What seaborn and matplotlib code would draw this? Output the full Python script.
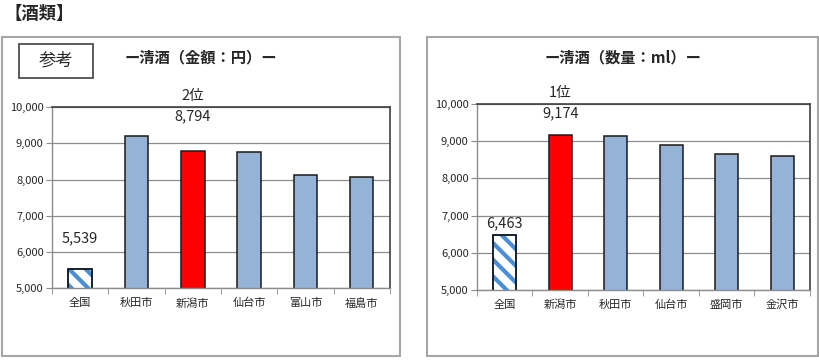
"""
清酒の支出金額・購入数量（都市別）の棒グラフ
"""
import matplotlib.pyplot as plt
import matplotlib.patches as mpatches
import matplotlib.ticker as mticker
import pandas as pd
import seaborn as sns

# 金額（円）
amount_cities = ["全国", "秋田市", "新潟市", "仙台市", "富山市", "福島市"]
amount_values = [5539, 9200, 8794, 8760, 8120, 8060]

# 数量（ml）
volume_cities = ["全国", "新潟市", "秋田市", "仙台市", "盛岡市", "金沢市"]
volume_values = [6463, 9174, 9150, 8890, 8648, 8602]

y_ticks = [5000, 6000, 7000, 8000, 9000, 10000]

BLUE = "#95b3d7"
RED = "#ff0000"
HATCH_BLUE = "#4a8fd6"

sns.set_style("white")
plt.rcParams["font.family"] = ["Noto Sans CJK JP", "DejaVu Sans"]
plt.rcParams["hatch.linewidth"] = 3.0


def draw_panel(ax, cities, values, title, rank_text, labels):
    df = pd.DataFrame({"city": cities, "value": values})
    colors = {c: (RED if c == "新潟市" else BLUE) for c in cities}
    colors["全国"] = "white"
    sns.barplot(data=df, x="city", y="value", hue="city", palette=colors,
                legend=False, width=0.42, saturation=1, edgecolor="#1a1a1a",
                linewidth=1.1, ax=ax)

    # 全国 bar: white with blue diagonal stripes, black outline
    nat = ax.patches[0]
    nat.set_hatch("\\\\")
    if hasattr(nat, "set_hatchcolor"):
        nat.set_hatchcolor(HATCH_BLUE)
    else:
        nat.set_edgecolor(HATCH_BLUE)
        ax.add_patch(mpatches.Rectangle(
            (nat.get_x(), nat.get_y()), nat.get_width(), nat.get_height(),
            fill=False, edgecolor="black", linewidth=1.1, zorder=nat.get_zorder() + 0.1))

    ax.set_ylim(5000, 10000)
    ax.set_xlim(-0.5, len(cities) - 0.5)
    ax.set_yticks(y_ticks)
    ax.yaxis.set_major_formatter(mticker.StrMethodFormatter("{x:,.0f}"))
    ax.set_xlabel("")
    ax.set_ylabel("")
    ax.set_axisbelow(True)
    ax.grid(axis="y", color="#8c8c8c", linewidth=0.9)

    ax.set_xticks(range(len(cities)))
    ax.set_xticklabels(cities, fontsize=8)
    ax.set_xticks([i - 0.5 for i in range(len(cities) + 1)], minor=True)
    ax.tick_params(axis="x", which="major", length=0, pad=7)
    ax.tick_params(axis="x", which="minor", length=4, color="#8c8c8c",
                   direction="out", bottom=True)
    ax.tick_params(axis="y", length=4, color="#8c8c8c", direction="out",
                   left=True, labelsize=8, pad=2)

    for side in ["left", "bottom"]:
        ax.spines[side].set_color("#8c8c8c")
        ax.spines[side].set_linewidth(1.0)
    for side in ["top", "right"]:
        ax.spines[side].set_color("#404040")
        ax.spines[side].set_linewidth(1.2)

    idx = cities.index("新潟市")
    ax.text(idx, rank_text[1], rank_text[0], ha="center", va="center",
            fontsize=10.5, clip_on=False)
    for i, y in labels:
        ax.text(i, y, f"{values[i]:,}", ha="center", va="center",
                fontsize=10.5, clip_on=False)

    fig = ax.figure
    pos = ax.get_position()
    fig.text(pos.x0 + pos.width * 0.44, 0.84, title, ha="center",
             va="center", fontsize=11, fontweight="bold")


fig = plt.figure(figsize=(8.2, 3.61), dpi=100)

# panel frames
for x0, w in [(0.0024, 0.485), (0.5207, 0.477)]:
    fig.add_artist(mpatches.Rectangle((x0, 0.0139), w, 0.884,
                                      transform=fig.transFigure, fill=False,
                                      edgecolor="#a6a6a6", linewidth=1.5))

ax1 = fig.add_axes([0.0634, 0.202, 0.412, 0.501])
draw_panel(ax1, amount_cities, amount_values, "ー清酒（金額：円）ー",
           ("2位", 10304), [(2, 9751), (0, 6381)])

ax2 = fig.add_axes([0.5817, 0.197, 0.406, 0.515])
draw_panel(ax2, volume_cities, volume_values, "ー清酒（数量：ml）ー",
           ("1位", 10296), [(1, 9758), (0, 6801)])

# 参考 box
fig.add_artist(mpatches.Rectangle((0.0232, 0.784), 0.090, 0.094,
                                  transform=fig.transFigure, facecolor="white",
                                  edgecolor="#404040", linewidth=1.2))
fig.text(0.0683, 0.831, "参考", ha="center", va="center", fontsize=12.5)

fig.text(0.006, 0.962, "【酒類】", ha="left", va="center", fontsize=12.5,
         fontweight="bold")

fig.savefig("out.png", dpi=100)
